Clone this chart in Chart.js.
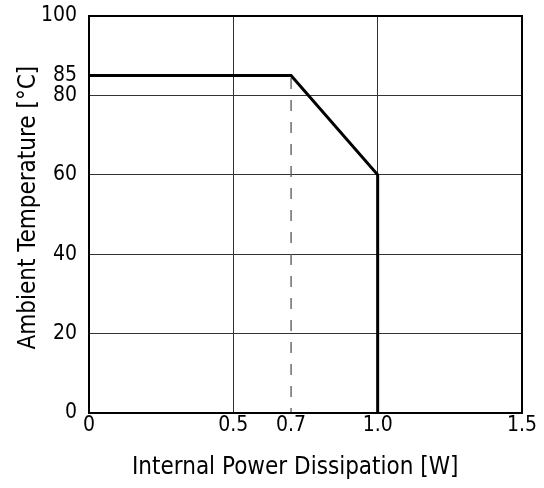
<!DOCTYPE html>
<html>
<head>
<meta charset="utf-8">
<script src="https://cdn.jsdelivr.net/npm/chart.js@4.4.0/dist/chart.umd.min.js"></script>
<style>
html,body{margin:0;padding:0;background:#fff;}
#wrap{width:544px;height:488px;}
</style>
</head>
<body>
<div id="wrap"><canvas id="c" width="544" height="488"></canvas></div>
<script>
const curveX = [0, 0.7, 1.0, 1.0];
const curveY = [85, 85, 60, 0];
const dashX = [0.7, 0.7];
const dashY = [0, 85];
const xTicks = [0, 0.5, 0.7, 1.0, 1.5];
const xTickLabels = ['0', '0.5', '0.7', '1.0', '1.5'];
const yTicks = [0, 20, 40, 60, 80, 85, 100];
const xGridHidden = [0.7];
const yGridHidden = [85];

const FONT = "'DejaVu Sans Condensed', 'Liberation Sans Narrow', sans-serif";
const NB = '\u00A0';

const curve = curveX.map((x, i) => ({x, y: curveY[i]}));
const dash = dashX.map((x, i) => ({x, y: dashY[i]}));

new Chart(document.getElementById('c'), {
  type: 'scatter',
  data: {
    datasets: [
      { data: dash, showLine: true, borderColor: '#555', borderWidth: 1.3, borderDash: [11, 11], borderDashOffset: 6, pointRadius: 0, fill: false },
      { data: curve, showLine: true, borderColor: '#000', borderWidth: 3, pointRadius: 0, fill: false, borderJoinStyle: 'miter' }
    ]
  },
  options: {
    responsive: false,
    animation: false,
    layout: { padding: { top: 16, right: 22, bottom: 0, left: 0 } },
    plugins: { legend: { display: false }, tooltip: { enabled: false } },
    scales: {
      x: {
        type: 'linear', min: 0, max: 1.5,
        afterBuildTicks: s => { s.ticks = xTicks.map(v => ({value: v})); },
        afterFit: s => { s.height = 75; s.paddingLeft = 0; s.paddingRight = 0; },
        ticks: {
          color: '#000', font: { family: FONT, size: 21 }, padding: 0,
          callback: (v) => { const i = xTicks.indexOf(v); return i >= 0 ? xTickLabels[i] : ''; },
          maxRotation: 0, autoSkip: false
        },
        grid: {
          drawTicks: false,
          color: c => (c.tick && xGridHidden.includes(c.tick.value)) ? 'rgba(0,0,0,0)' : '#333',
          lineWidth: 1
        },
        border: { display: true, color: '#000', width: 2 },
        title: { display: true, text: 'Internal Power Dissipation [W]' + NB + NB + NB, color: '#000', font: { family: FONT, size: 24 }, padding: { top: 15, bottom: 5.6 } }
      },
      y: {
        type: 'linear', min: 0, max: 100,
        afterBuildTicks: s => { s.ticks = yTicks.map(v => ({value: v})); },
        afterFit: s => { s.width = 89; s.paddingTop = 0; s.paddingBottom = 0; },
        ticks: {
          color: '#000', font: { family: FONT, size: 21 }, padding: 12, autoSkip: false
        },
        grid: {
          drawTicks: false,
          color: c => (c.tick && yGridHidden.includes(c.tick.value)) ? 'rgba(0,0,0,0)' : '#333',
          lineWidth: 1
        },
        border: { display: true, color: '#000', width: 2 },
        title: { display: true, text: NB + NB + 'Ambient Temperature [°C]', color: '#000', font: { family: FONT, size: 24 }, padding: { top: 14, bottom: 0 } }
      }
    }
  },
  plugins: [{
    id: 'frame',
    afterDraw(chart) {
      const a = chart.chartArea, ctx = chart.ctx;
      ctx.save();
      ctx.strokeStyle = '#000'; ctx.lineWidth = 2;
      ctx.strokeRect(a.left, a.top, a.right - a.left, a.bottom - a.top);
      ctx.restore();
    }
  }]
});
</script>
</body>
</html>
